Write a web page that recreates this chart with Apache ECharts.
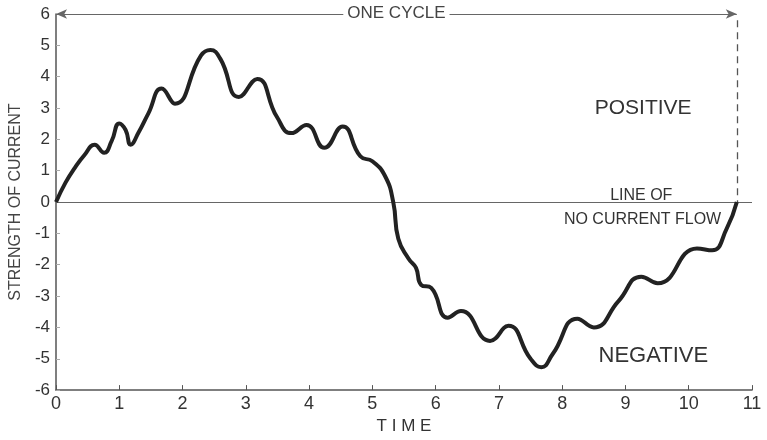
<!DOCTYPE html>
<html>
<head>
<meta charset="utf-8">
<script src="https://cdn.jsdelivr.net/npm/echarts@6/dist/echarts.min.js"></script>
<style>html,body{margin:0;padding:0;background:#fff}#c{width:767px;height:440px}</style>
</head>
<body>
<div id="c"></div>
<script>
// ---- data ----
const timeValues = [0, 0.15, 0.3, 0.45, 0.61, 0.76, 0.88, 1.0, 1.1, 1.18, 1.3, 1.46, 1.67, 1.88, 2.29, 2.44, 2.6, 2.89, 3.18, 3.49, 3.72, 3.96, 4.24, 4.53, 4.81, 5.0, 5.2, 5.33, 5.41, 5.57, 5.69, 5.77, 5.93, 6.19, 6.4, 6.86, 7.15, 7.5, 7.67, 7.85, 8.24, 8.5, 8.89, 9.25, 9.51, 10.13, 10.37, 10.6, 10.76];
const currentValues = [0, 0.62, 1.1, 1.5, 1.83, 1.57, 1.95, 2.51, 2.3, 1.83, 2.2, 2.83, 3.62, 3.14, 4.67, 4.85, 4.56, 3.35, 3.93, 2.72, 2.2, 2.46, 1.73, 2.41, 1.46, 1.3, 0.83, 0, -1.17, -1.8, -2.1, -2.64, -2.74, -3.69, -3.48, -4.43, -3.95, -5.0, -5.27, -4.85, -3.72, -4.0, -3.16, -2.38, -2.59, -1.48, -1.54, -0.85, 0];
const xTicks = [0, 1, 2, 3, 4, 5, 6, 7, 8, 9, 10, 11];
const yTicks = [-6, -5, -4, -3, -2, -1, 0, 1, 2, 3, 4, 5, 6];
const cycleEnd = 10.76;
const xTitle = 'T I M E';
const yTitle = 'STRENGTH OF CURRENT';
const cycleLabel = 'ONE CYCLE';
const notes = [
  {text: 'POSITIVE', x: 9.28, y: 3.0, size: 21},
  {text: 'LINE OF', x: 9.25, y: 0.22, size: 16},
  {text: 'NO CURRENT FLOW', x: 9.27, y: -0.57, size: 16},
  {text: 'NEGATIVE', x: 9.44, y: -4.9, size: 22}
];

const FONT = "'Liberation Sans', Arial, sans-serif";
const chart = echarts.init(document.getElementById('c'), null, {renderer: 'canvas'});
const seriesData = timeValues.map((t, i) => [t, currentValues[i]]);

chart.setOption({
  animation: false,
  backgroundColor: '#fff',
  grid: {left: 46, right: 15, top: 14, bottom: 45, containLabel: false},
  xAxis: {
    type: 'value', min: xTicks[0], max: xTicks[xTicks.length - 1], interval: 1,
    name: xTitle, nameLocation: 'middle', nameGap: 27,
    nameTextStyle: {fontFamily: FONT, fontSize: 17, color: '#333'},
    axisLine: {show: true, onZero: false, lineStyle: {color: '#555', width: 1.5}},
    axisTick: {show: true, inside: true, length: 5, lineStyle: {color: '#555', width: 1}},
    axisLabel: {fontFamily: FONT, fontSize: 18, color: '#333', margin: 5},
    splitLine: {show: false}
  },
  yAxis: {
    type: 'value', min: yTicks[0], max: yTicks[yTicks.length - 1], interval: 1,
    name: yTitle, nameLocation: 'middle', nameGap: 26, nameRotate: 90,
    nameTextStyle: {fontFamily: FONT, fontSize: 16, color: '#444'},
    axisLine: {show: true, onZero: false, lineStyle: {color: '#555', width: 1.5}},
    axisTick: {show: true, inside: true, length: 4, lineStyle: {color: '#aaa', width: 1}},
    axisLabel: {fontFamily: FONT, fontSize: 17, color: '#333', margin: 6},
    splitLine: {show: false}
  },
  series: [{
    type: 'line',
    data: seriesData,
    smooth: 0.5,
    showSymbol: false,
    lineStyle: {color: '#222', width: 4},
    z: 5,
    markLine: {
      silent: true,
      symbol: ['none', 'none'],
      animation: false,
      data: [
        [
          {coord: [0, 0], lineStyle: {color: '#666', width: 1.2, type: 'solid'}, label: {show: false}},
          {coord: [xTicks[xTicks.length - 1], 0]}
        ],
        [
          {coord: [0, 6], symbol: 'arrow', symbolSize: [7, 11], lineStyle: {color: '#666', width: 1.2, type: 'solid'},
           label: {show: true, position: 'middle', formatter: cycleLabel, fontFamily: FONT, fontSize: 17, color: '#444', backgroundColor: '#fff', padding: [0, 4], distance: -8}},
          {coord: [cycleEnd, 6], symbol: 'arrow', symbolSize: [7, 11]}
        ],
        [
          {coord: [cycleEnd, 5.8], lineStyle: {color: '#555', width: 1.3, type: [7, 5]}, label: {show: false}},
          {coord: [cycleEnd, 0]}
        ]
      ]
    },
    markPoint: {
      silent: true,
      symbol: 'circle',
      symbolSize: 0,
      data: notes.map(n => ({
        coord: [n.x, n.y],
        label: {show: true, position: 'inside', formatter: n.text, fontFamily: FONT, fontSize: n.size, color: '#333'}
      }))
    }
  }]
});
</script>
</body>
</html>
